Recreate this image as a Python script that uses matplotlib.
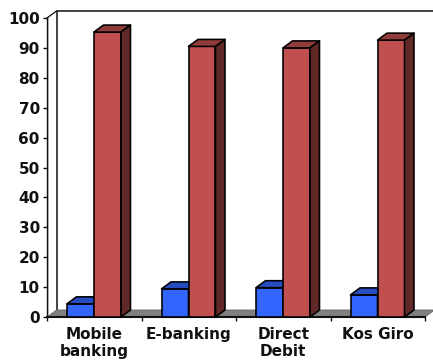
import matplotlib
matplotlib.use("Agg")
import matplotlib.pyplot as plt
from matplotlib.patches import Polygon

plt.rcParams['font.family'] = ['DejaVu Sans']

categories = ["Mobile\nbanking", "E-banking", "Direct\nDebit", "Kos Giro"]
blue_values = [4.4, 9.4, 9.8, 7.4]
red_values = [95.3, 90.5, 90.0, 92.6]
y_ticks = [0, 10, 20, 30, 40, 50, 60, 70, 80, 90, 100]

W, H = 433, 361
LEFT, RIGHT, BOTTOM, TOP = 47, 425, 317, 18

fig = plt.figure(figsize=(W / 100, H / 100), dpi=100, facecolor="white")
ax = fig.add_axes([LEFT / W, 1 - BOTTOM / H, (RIGHT - LEFT) / W, (BOTTOM - TOP) / H])
ax.set_xlim(0, 4)
ax.set_ylim(0, 100)
ax.patch.set_visible(False)
for side in ("top", "right"):
    ax.spines[side].set_visible(False)
ax.spines["left"].set_linewidth(1.0)
ax.spines["bottom"].set_linewidth(1.5)
for side in ("left", "bottom"):
    ax.spines[side].set_color("#111111")
    ax.spines[side].set_zorder(2.5)

# depth of the pseudo-3D projection, in data units
DX = 9.5 / 94.5
DY = 7 / 2.99
BAR_W = 27 / 94.5
BAR_OFFSET = 20 / 94.5


def poly(points, face, z, edge="#000000", lw=1.15):
    ax.add_patch(Polygon(points, closed=True, facecolor=face, edgecolor=edge,
                         linewidth=lw, zorder=z, clip_on=False, joinstyle="round"))


# light shade beside the axis line, then the frame of the back wall
ax.plot([0.012, 0.012], [1, 100], color="#c8c8c8", lw=1.2, zorder=1, clip_on=False)
ax.plot([DX, DX, 4 + DX], [DY, 100 + DY, 100 + DY], color="#111111", lw=1.1, zorder=2,
        clip_on=False)
ax.plot([0, DX], [100, 100 + DY], color="#111111", lw=0.9, zorder=2, clip_on=False)
# floor
poly([(0, 0), (DX, DY), (4 + DX, DY), (4, 0)], "#808080", 2, edge="#666666", lw=0.6)


def bar_3d(x, value, front, top, side, z):
    poly([(x, 0), (x, value), (x + BAR_W, value), (x + BAR_W, 0)], front, z)
    poly([(x, value), (x + DX, value + DY), (x + BAR_W + DX, value + DY), (x + BAR_W, value)],
         top, z)
    poly([(x + BAR_W, 0), (x + BAR_W, value), (x + BAR_W + DX, value + DY),
          (x + BAR_W + DX, DY)], side, z)


for i, (b, r) in enumerate(zip(blue_values, red_values)):
    bar_3d(i + BAR_OFFSET, b, "#3366ff", "#264cbf", "#1f3f9f", 3 + i)
    bar_3d(i + BAR_OFFSET + BAR_W, r, "#c0504d", "#903c3a", "#602826", 3.5 + i)

ax.set_yticks(y_ticks)
ax.set_xticks(range(5))
ax.set_xticklabels([])
ax.tick_params(axis="both", length=3.2, width=1.0, color="#111111")
ax.tick_params(axis="y", pad=2)
for lab in ax.get_yticklabels():
    lab.set_fontsize(11)
    lab.set_fontweight("bold")
    lab.set_color("#111111")

for i, name in enumerate(categories):
    ax.annotate(name, xy=(i + 0.5, 0), xytext=(0, -7.5), textcoords="offset points",
                ha="center", va="top", fontsize=11, fontweight="bold",
                color="#111111", linespacing=1.1, annotation_clip=False)

fig.savefig("out.png", dpi=100)
